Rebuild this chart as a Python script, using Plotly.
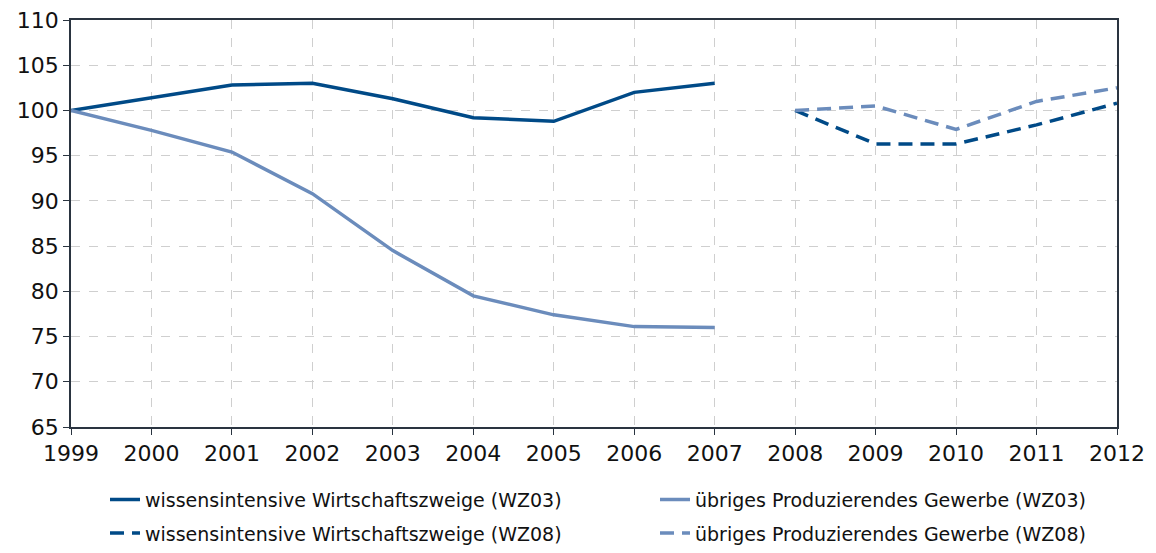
import plotly.graph_objects as go

years_wz03 = [1999, 2000, 2001, 2002, 2003, 2004, 2005, 2006, 2007]
years_wz08 = [2008, 2009, 2010, 2011, 2012]

wissen_wz03 = [100, 101.4, 102.8, 103.0, 101.3, 99.2, 98.8, 102.0, 103.0]
uebrige_wz03 = [100, 97.8, 95.4, 90.8, 84.5, 79.5, 77.4, 76.1, 76.0]
wissen_wz08 = [100, 96.3, 96.3, 98.4, 100.8]
uebrige_wz08 = [100, 100.5, 97.9, 101.0, 102.5]

DARK = "#004a87"
LIGHT = "#6b8cbc"
FONT = "DejaVu Sans"
DASH = "14px,8px"

# the page has an 8px body margin, so the figure is drawn a bit smaller
W, H = 1140, 537

fig = go.Figure()
fig.add_trace(go.Scatter(x=years_wz03, y=wissen_wz03, mode="lines",
                         name="wissensintensive Wirtschaftszweige (WZ03)",
                         legend="legend", legendgroup="a",
                         line=dict(color=DARK, width=3.5)))
fig.add_trace(go.Scatter(x=years_wz08, y=wissen_wz08, mode="lines",
                         name="wissensintensive Wirtschaftszweige (WZ08)",
                         legend="legend", legendgroup="b",
                         line=dict(color=DARK, width=3.5, dash=DASH)))
fig.add_trace(go.Scatter(x=years_wz03, y=uebrige_wz03, mode="lines",
                         name="übriges Produzierendes Gewerbe (WZ03)",
                         legend="legend2", legendgroup="c",
                         line=dict(color=LIGHT, width=3.5)))
fig.add_trace(go.Scatter(x=years_wz08, y=uebrige_wz08, mode="lines",
                         name="übriges Produzierendes Gewerbe (WZ08)",
                         legend="legend2", legendgroup="d",
                         line=dict(color=LIGHT, width=3.5, dash=DASH)))

axis_style = dict(
    showgrid=True, gridcolor="#cfcfcf", griddash="dash", gridwidth=1,
    showline=True, linecolor="#2a3440", linewidth=1.5, mirror=True,
    ticks="outside", ticklen=6, tickcolor="#2a3440", zeroline=False,
    automargin=False, tickfont=dict(size=22), ticklabeloverflow="allow",
)

legend_style = dict(orientation="v", xref="container", xanchor="left",
                    yref="container", y=0.12, yanchor="top",
                    font=dict(size=19), tracegroupgap=6, bgcolor="rgba(0,0,0,0)")

fig.update_layout(
    width=W, height=H,
    margin=dict(l=63, r=31, t=12, b=118, autoexpand=False),
    paper_bgcolor="white", plot_bgcolor="white",
    font=dict(family=FONT, size=19, color="#111111"),
    showlegend=True,
    legend=dict(x=97 / W, **legend_style),
    legend2=dict(x=647 / W, **legend_style),
    xaxis=dict(range=[1999, 2012], tickmode="array",
               tickvals=list(range(1999, 2013)), **axis_style),
    yaxis=dict(range=[65, 110], tickmode="array",
               tickvals=list(range(65, 111, 5)), **axis_style),
)

fig.write_html("out.html")
